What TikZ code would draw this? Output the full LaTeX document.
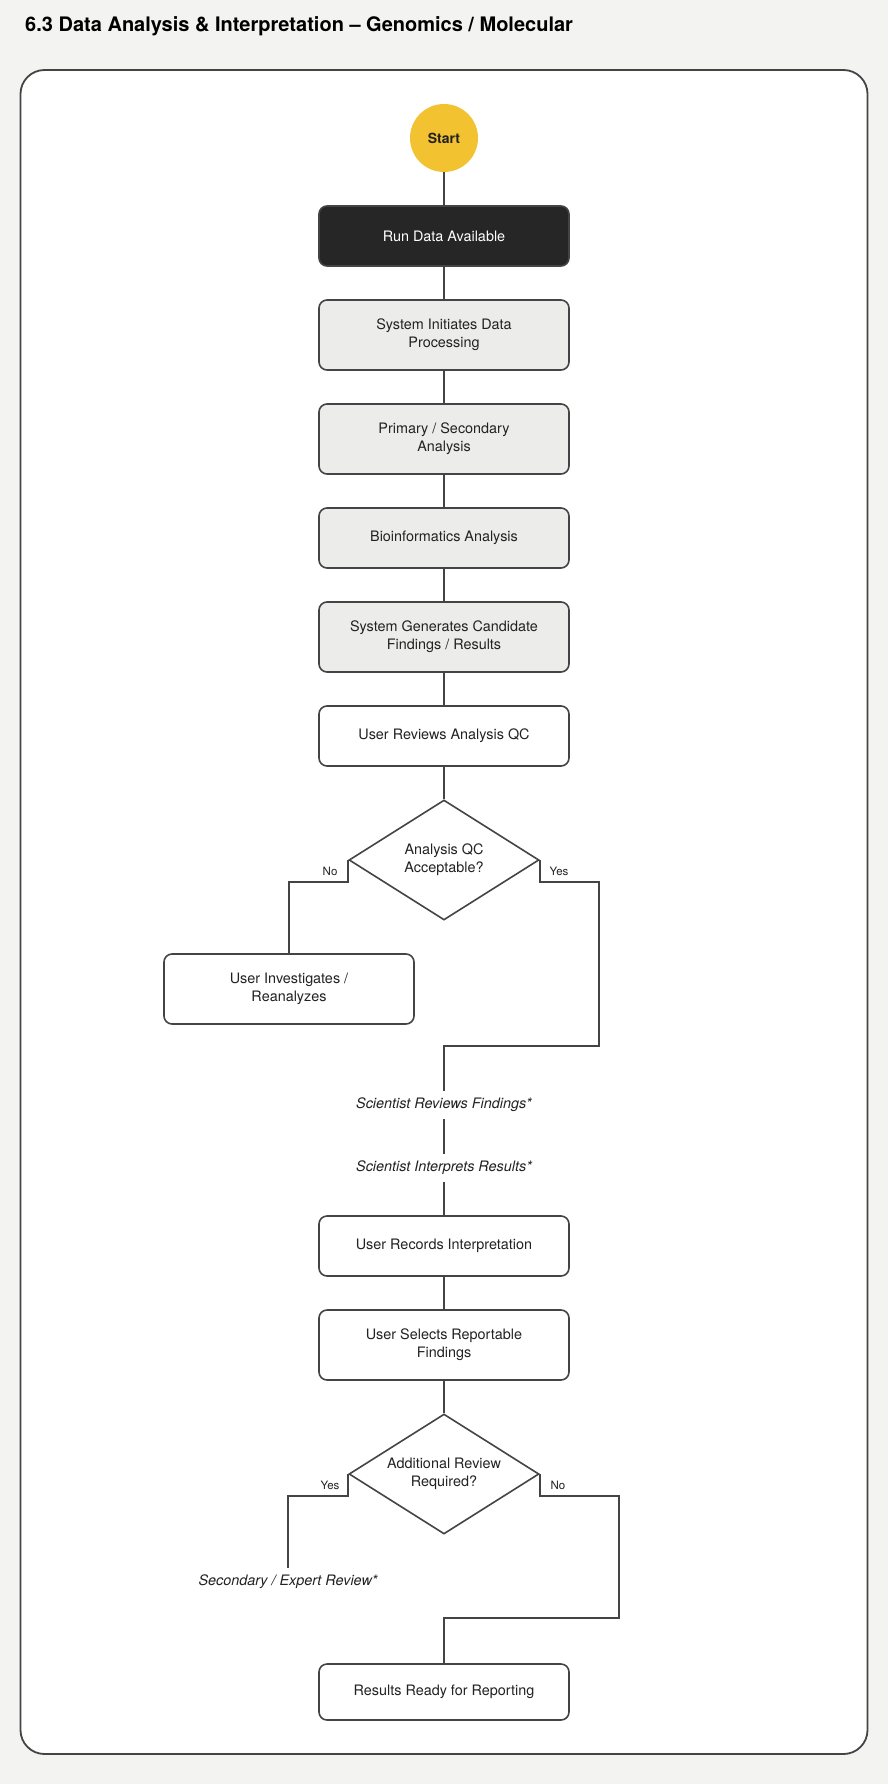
\documentclass[tikz,border=0pt]{standalone}
\usepackage{fontspec}
\setmainfont{TeX Gyre Heros}
\usetikzlibrary{shapes.geometric,positioning}
\definecolor{pagebg}{HTML}{F3F3F1}
\definecolor{edge}{HTML}{444444}
\definecolor{ink}{HTML}{222222}
\definecolor{sysfill}{HTML}{ECECEA}
\definecolor{runfill}{HTML}{262626}
\definecolor{startfill}{HTML}{F2C230}
\newcommand{\flowfont}{\fontsize{14.4}{18}\selectfont}
\tikzset{
	userbox/.style={draw=edge, line width=1.6pt, rounded corners=8pt, fill=white, text=ink, font=\flowfont, align=center, minimum width=250pt, minimum height=60pt, inner sep=0pt},
	sysbox/.style={userbox, fill=sysfill, minimum height=70pt},
	runbox/.style={userbox, fill=runfill, text=white},
	startdot/.style={circle, fill=startfill, minimum size=68pt, inner sep=0pt, text=ink, font=\fontsize{14}{16}\selectfont\bfseries},
	decide/.style={diamond, aspect=1.58, draw=edge, line width=1.6pt, fill=white, text=ink, font=\flowfont, align=center, minimum width=190pt, minimum height=120pt, inner sep=0pt},
	notetext/.style={text=ink, font=\flowfont\itshape, minimum height=28pt, inner sep=0pt},
	branch/.style={text=ink, font=\fontsize{11.5}{14}\selectfont, inner sep=0pt},
	link/.style={draw=edge, line width=1.6pt}
}
\begin{document}
\begin{tikzpicture}[x=1pt, y=-1pt]
	\fill[pagebg] (0,0) rectangle (888,1784);
	\useasboundingbox (0,0) rectangle (888,1784);
	\draw[edge, line width=1.8pt, fill=white, rounded corners=24pt] (20.5,70) rectangle (867.5,1754);
	\node[anchor=west, text=black, inner sep=0pt, font=\fontsize{20}{24}\selectfont\bfseries] (title) at (25,26) {6.3 Data Analysis \& Interpretation – Genomics / Molecular};

	\node[startdot] (start) at (444,138) {Start};
	\node[runbox] (run) at (444,236) {Run Data Available};
	\node[sysbox] (init) at (444,335) {System Initiates Data\\Processing};
	\node[sysbox] (prim) at (444,439) {Primary / Secondary\\Analysis};
	\node[sysbox, minimum height=60pt] (bio) at (444,538) {Bioinformatics Analysis};
	\node[sysbox] (cand) at (444,637) {System Generates Candidate\\Findings / Results};
	\node[userbox] (qc) at (444,736) {User Reviews Analysis QC};
	\node[decide] (qcok) at (444,860) {Analysis QC\\Acceptable?};
	\node[userbox, minimum height=70pt] (invest) at (289,989) {User Investigates /\\Reanalyzes};
	\node[notetext] (review) at (444,1105) {Scientist Reviews Findings*};
	\node[notetext] (interp) at (444,1168) {Scientist Interprets Results*};
	\node[userbox] (record) at (444,1246) {User Records Interpretation};
	\node[userbox, minimum height=70pt] (select) at (444,1345) {User Selects Reportable\\Findings};
	\node[decide] (extra) at (444,1474) {Additional Review\\Required?};
	\node[notetext] (expert) at (288,1582) {Secondary / Expert Review*};
	\node[userbox, minimum height=56pt] (ready) at (444,1692) {Results Ready for Reporting};

	\draw[link] (start) -- (run);
	\draw[link] (run) -- (init);
	\draw[link] (init) -- (prim);
	\draw[link] (prim) -- (bio);
	\draw[link] (bio) -- (cand);
	\draw[link] (cand) -- (qc);
	\draw[link] (qc) -- (qcok);
	\draw[link] (qcok.west) -- ++(0,22) node[branch, midway, left=10pt] {No} -| (invest.north);
	\draw[link] (qcok.east) -- ++(0,22) node[branch, midway, right=9pt] {Yes} -| (599,1046) -| (review.north);
	\draw[link] (review) -- (interp);
	\draw[link] (interp) -- (record);
	\draw[link] (record) -- (select);
	\draw[link] (select) -- (extra);
	\draw[link] (extra.west) -- ++(0,22) node[branch, midway, left=8pt] {Yes} -| (expert.north);
	\draw[link] (extra.east) -- ++(0,22) node[branch, midway, right=10pt] {No} -| (619,1618) -| (ready.north);
\end{tikzpicture}
\end{document}
